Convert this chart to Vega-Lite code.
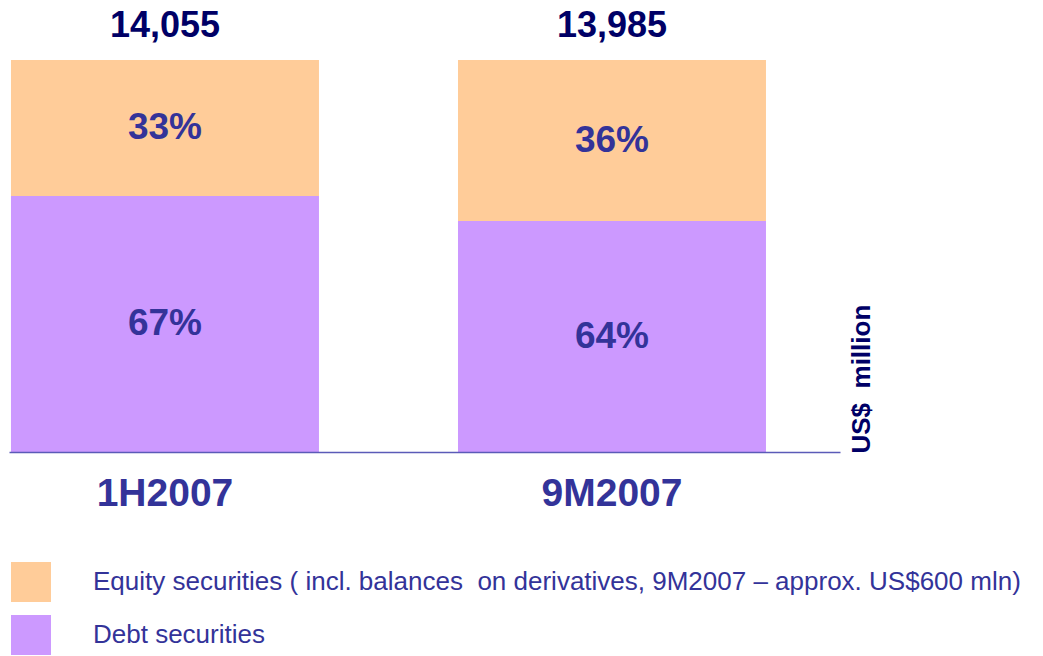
{
  "$schema": "https://vega.github.io/schema/vega-lite/v6.json",
  "width": 831,
  "height": 392,
  "autosize": {"type": "none"},
  "padding": {"left": 9, "top": 60, "right": 203, "bottom": 204},
  "background": "white",
  "config": {
    "font": "Liberation Sans",
    "view": {"stroke": null}
  },
  "data": {
    "values": [
      {"period": "1H2007", "type": "Debt", "share": 65.3, "pct": "67%", "total": 14055},
      {"period": "1H2007", "type": "Equity", "share": 34.7, "pct": "33%", "total": 14055},
      {"period": "9M2007", "type": "Debt", "share": 58.9, "pct": "64%", "total": 13985},
      {"period": "9M2007", "type": "Equity", "share": 41.1, "pct": "36%", "total": 13985}
    ]
  },
  "transform": [
    {"stack": "share", "groupby": ["period"], "sort": [{"field": "type", "order": "ascending"}], "as": ["v0", "v1"]},
    {"calculate": "(datum.v0 + datum.v1) / 2", "as": "mid"}
  ],
  "encoding": {
    "x": {
      "field": "period",
      "type": "nominal",
      "sort": ["1H2007", "9M2007"],
      "scale": {"type": "band", "paddingInner": 0.311, "paddingOuter": 0.085, "align": 0.026},
      "axis": {
        "title": null,
        "orient": "bottom",
        "domain": true,
        "domainColor": "#5b5bb8",
        "domainWidth": 1.5,
        "ticks": false,
        "tickSize": 0,
        "labelAngle": 0,
        "labelFontSize": 39,
        "labelFontWeight": "bold",
        "labelColor": "#333399",
        "labelPadding": 53,
        "labelBaseline": "alphabetic",
        "zindex": 1
      }
    }
  },
  "layer": [
    {
      "mark": {"type": "bar"},
      "encoding": {
        "y": {
          "field": "v0",
          "type": "quantitative",
          "title": "US$\u00a0 million",
          "scale": {"domain": [0, 100], "nice": false},
          "axis": {
            "orient": "right",
            "domain": false,
            "ticks": false,
            "labels": false,
            "grid": false,
            "titleAngle": 270,
            "titleFontSize": 26,
            "titleFontWeight": "bold",
            "titleColor": "#000066",
            "titleX": 21,
            "titleY": 393,
            "titleAlign": "left",
            "titleBaseline": "middle"
          }
        },
        "y2": {"field": "v1"},
        "color": {
          "field": "type",
          "type": "nominal",
          "scale": {"domain": ["Equity", "Debt"], "range": ["#FFCC99", "#CC99FF"]},
          "legend": {
            "title": null,
            "orient": "none",
            "legendX": 2,
            "legendY": 502,
            "symbolType": "square",
            "symbolSize": 1600,
            "symbolStrokeWidth": 0,
            "symbolOpacity": 1,
            "labelFontSize": 26,
            "labelColor": "#333399",
            "labelOffset": 42,
            "rowPadding": 13,
            "labelLimit": 1000,
            "labelExpr": "datum.value == 'Equity' ? 'Equity securities ( incl. balances\u00a0 on derivatives, 9M2007 \u2013 approx. US$600 mln)' : 'Debt securities'"
          }
        },
        "order": {"field": "type", "sort": "ascending"}
      }
    },
    {
      "mark": {"type": "text", "fontSize": 37, "fontWeight": "bold", "color": "#333399", "baseline": "middle", "align": "center"},
      "encoding": {
        "y": {
          "field": "mid",
          "type": "quantitative",
          "title": "US$\u00a0 million",
          "scale": {"domain": [0, 100], "nice": false}
        },
        "text": {"field": "pct"}
      }
    },
    {
      "transform": [{"filter": "datum.type == 'Equity'"}],
      "mark": {"type": "text", "fontSize": 36, "fontWeight": "bold", "color": "#000066", "baseline": "alphabetic", "align": "center", "dy": -23},
      "encoding": {
        "y": {
          "field": "v1",
          "type": "quantitative",
          "title": "US$\u00a0 million",
          "scale": {"domain": [0, 100], "nice": false}
        },
        "text": {"field": "total", "format": ",d"}
      }
    }
  ]
}
